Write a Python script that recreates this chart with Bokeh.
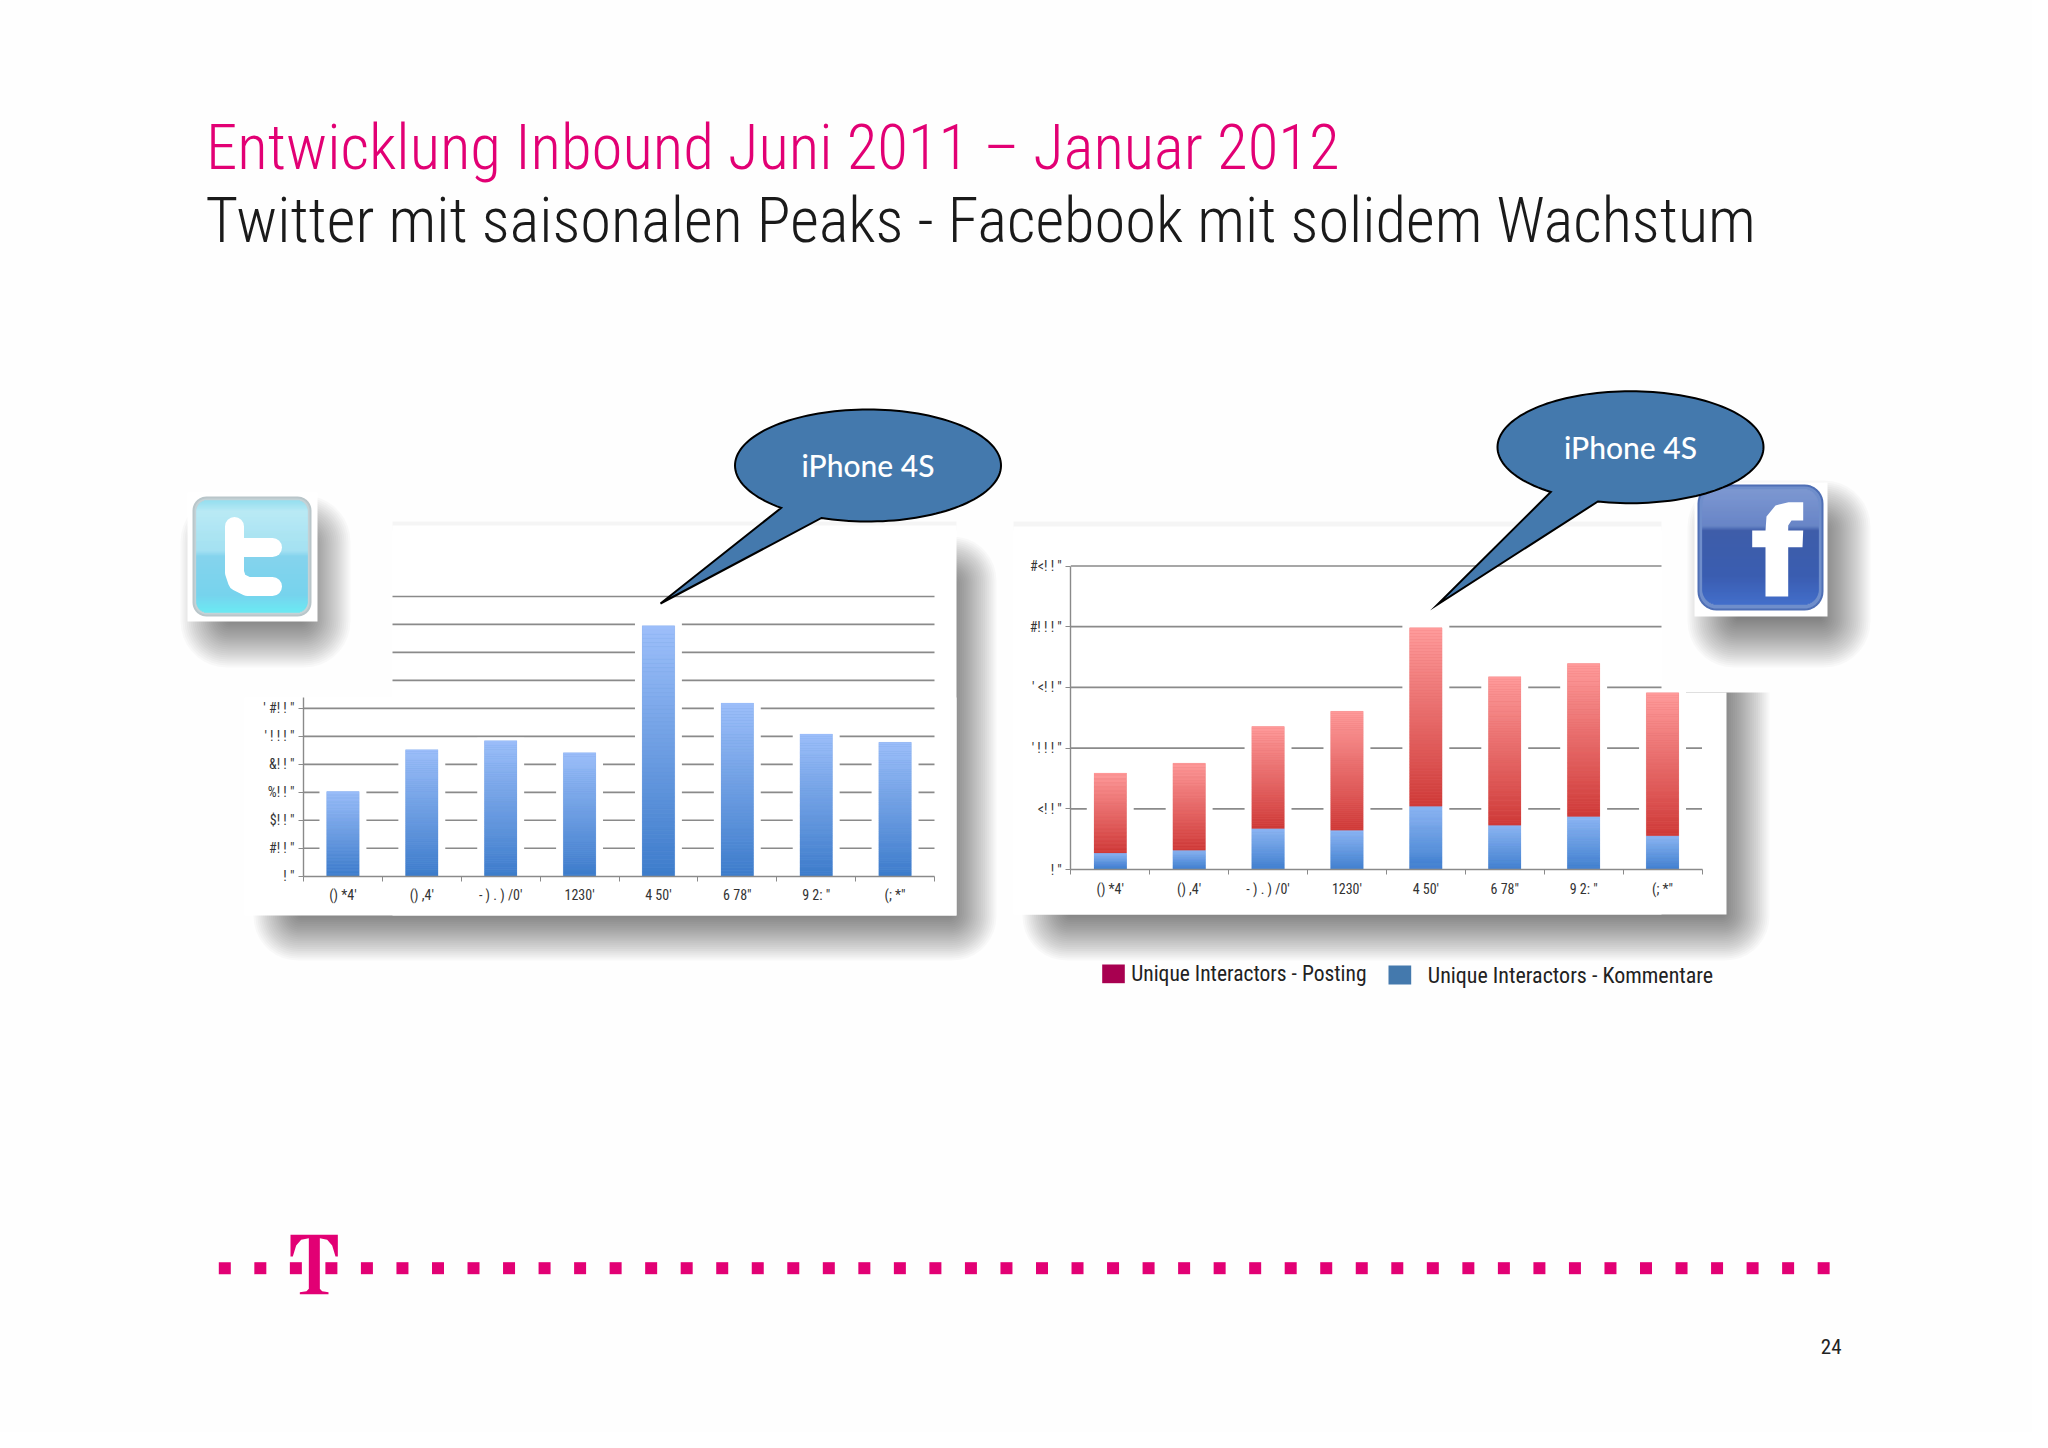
import numpy as np
from bokeh.plotting import figure
from bokeh.core.properties import value
from bokeh.models import Range1d, LinearAxis, FixedTicker
from bokeh.embed import file_html
from bokeh.resources import INLINE

# ---- data ----
months = ["() *4'", "() ,4'", "- ) . ) /0'", "1230'", "4 50'", "6 78\"", "9 2: \"", "(; *\""]
tw_values = [605, 905, 969, 883, 1790, 1238, 1017, 957]
tw_ticks = [0, 200, 400, 600, 800, 1000, 1200]
tw_tick_labels = ['! "', '#! ! "', '$! ! "', '%! ! "', '&! ! "', "' ! ! ! \"", "' #! ! \""]
tw_extra_grid = [1400, 1600, 1800, 2000]
fb_kommentare = [136, 159, 337, 324, 522, 364, 437, 278]
fb_posting = [658, 717, 840, 979, 1469, 1223, 1259, 1177]
fb_ticks = [0, 500, 1000, 1500, 2000, 2500]
fb_tick_labels = ['! "', '<! ! "', "' ! ! ! \"", "' <! ! \"", '#! ! ! "', '#<! ! "']

BG = "#fefefe"
MAG = "#e20074"
CALL = "#4479ad"
SANS = "Roboto Condensed, Roboto"
TITLE_FONT = "Roboto Condensed Light, Roboto Condensed, Roboto Light, Roboto"

W, H = 2032, 1432
p = figure(width=W, height=H, x_range=Range1d(0, W), y_range=Range1d(H, 0),
           output_backend="svg", toolbar_location=None,
           x_axis_location=None, y_axis_location=None, min_border=0,
           background_fill_color=BG, border_fill_color=BG, outline_line_color=None)
p.grid.visible = False

# placement of the two charts on the page
TW = dict(x0=303.0, cat=78.875, y0=875.7, k=279.7 / 2000)
FB = dict(x0=1070.3, cat=78.9, y0=869.0, k=303.5 / 2500)
for name, c in (("tw", TW), ("fb", FB)):
    p.extra_x_ranges[name + "_x"] = Range1d(-c["x0"] / c["cat"] - .5, (W - c["x0"]) / c["cat"] - .5)
    p.extra_y_ranges[name + "_y"] = Range1d((c["y0"] - H) / c["k"], c["y0"] / c["k"])


def mix(a, b, t):
    a = [int(a[i:i + 2], 16) for i in (1, 3, 5)]
    b = [int(b[i:i + 2], 16) for i in (1, 3, 5)]
    return "#%02x%02x%02x" % tuple(int(round(a[i] + (b[i] - a[i]) * t)) for i in range(3))


def rrect(x0, y0, x1, y1, r):
    xs, ys = [], []
    for cx, cy, a in ((x1 - r, y0 + r, -90), (x1 - r, y1 - r, 0), (x0 + r, y1 - r, 90), (x0 + r, y0 + r, 180)):
        t = np.radians(np.linspace(a, a + 90, 10))
        xs += list(cx + r * np.cos(t))
        ys += list(cy + r * np.sin(t))
    return xs, ys


def shadow(x0, y0, x1, y1, blur, alpha=.024, n=26):
    for i in range(n):
        s = blur * (1 - 2 * (i + .5) / n)
        xs, ys = rrect(x0 - s, y0 - s, x1 + s, y1 + s, max((s + blur) * .9, .5))
        p.patch(xs, ys, fill_color="#000000", fill_alpha=alpha, line_color=None)


def grad_rrect(x0, y0, x1, y1, r, stops):
    n = int(y1 - y0)
    L, R, T, B, C = [], [], [], [], []
    for i in range(n):
        y = y0 + i + .5
        d = 0
        if y < y0 + r:
            d = r - np.sqrt(max(r * r - (y0 + r - y) ** 2, 0))
        elif y > y1 - r:
            d = r - np.sqrt(max(r * r - (y - y1 + r) ** 2, 0))
        f = (i + .5) / n
        for (f0, c0), (f1, c1) in zip(stops, stops[1:]):
            if f0 <= f <= f1:
                C.append(mix(c0, c1, (f - f0) / (f1 - f0)))
                break
        L.append(x0 + d); R.append(x1 - d); T.append(y0 + i); B.append(y0 + i + 1)
    p.quad(left=L, right=R, top=T, bottom=B, fill_color=C, line_color=C, line_width=.4)


def text(x, y, s, color, size, font=SANS, align="left", baseline="alphabetic"):
    p.text([x], [y], text=[s], text_color=color, text_font=value(font), text_font_size=size,
           text_align=align, text_baseline=baseline)


def callout(cx, cy, rx, ry, b1, b2, tip, label, dy):
    a1 = np.arctan2((b1[1] - cy) / ry, (b1[0] - cx) / rx)
    a2 = np.arctan2((b2[1] - cy) / ry, (b2[0] - cx) / rx)
    t = np.linspace(a2, a1 - 2 * np.pi, 140)
    xs = list(cx + rx * np.cos(t)) + [tip[0]]
    ys = list(cy + ry * np.sin(t)) + [tip[1]]
    p.patch(xs, ys, fill_color=CALL, line_color="#000000", line_width=2, line_join="miter")
    text(cx, cy + dy, label, "#ffffff", "30px", font="Lato Medium, Lato", align="center", baseline="middle")


def gradient_bars(xs, bottoms, tops, width, c_top, c_bot, rx, ry, n=60):
    L, R, T, B, C = [], [], [], [], []
    for x, b, t in zip(xs, bottoms, tops):
        edges = np.linspace(t, b, n + 1)
        for i in range(n):
            L.append(x - width / 2); R.append(x + width / 2)
            T.append(edges[i]); B.append(edges[i + 1])
            C.append(mix(c_top, c_bot, (i + .5) / n))
    p.quad(left=L, right=R, top=T, bottom=B, fill_color=C, line_color=C, line_width=.2,
           x_range_name=rx, y_range_name=ry)


def chart(name, ticks, tick_labels, axis_top):
    rx, ry = name + "_x", name + "_y"
    xa = LinearAxis(x_range_name=rx, y_range_name=ry, fixed_location=0, bounds=(-.5, 7.5),
                    ticker=FixedTicker(ticks=list(range(8)), minor_ticks=[i - .5 for i in range(9)]),
                    major_label_overrides={i: m for i, m in enumerate(months)},
                    major_tick_in=0, major_tick_out=0, minor_tick_in=0, minor_tick_out=5,
                    major_label_standoff=6, axis_line_color="#8a8a8a", minor_tick_line_color="#8a8a8a",
                    axis_line_width=1.4, major_label_text_font=SANS,
                    major_label_text_font_size="14px", major_label_text_color="#333333")
    ya = LinearAxis(x_range_name=rx, y_range_name=ry, fixed_location=-.5, bounds=(0, axis_top),
                    ticker=FixedTicker(ticks=ticks),
                    major_label_overrides=dict(zip(ticks, tick_labels)),
                    major_tick_in=0, major_tick_out=5, minor_tick_line_color=None,
                    major_label_standoff=4, axis_line_color="#8a8a8a", major_tick_line_color="#8a8a8a",
                    axis_line_width=1.4, major_label_text_font=SANS,
                    major_label_text_font_size="14px", major_label_text_color="#333333")
    p.add_layout(xa, "below")
    p.add_layout(ya, "left")


def grid(name, values, x0, x1):
    p.segment(x0=[x0] * len(values), x1=[x1] * len(values), y0=values, y1=values,
              line_color="#8a8a8a", line_width=1.7, x_range_name=name + "_x", y_range_name=name + "_y")


idx = list(range(8))
BARW = 32.5 / 79
HALO = 47 / 79

# ---- left card (Twitter) ----
shadow(277, 560, 972, 936, 25)
p.quad(left=[180], right=[400], top=[480], bottom=[705], fill_color=BG, line_color=None)
p.quad(left=[180], right=[1005], top=[480], bottom=[524], fill_color=BG, line_color=None)
p.quad(left=[392], right=[956], top=[521], bottom=[530], fill_color="#f5f5f5", line_color=None)
p.quad(left=[392], right=[956], top=[525], bottom=[915], fill_color="#ffffff", line_color=None)
p.quad(left=[244], right=[956], top=[697], bottom=[915], fill_color="#ffffff", line_color=None)

grid("tw", tw_ticks[1:], -.5, 7.5)
grid("tw", tw_extra_grid, (392 - TW["x0"]) / TW["cat"] - .5, 7.5)
halo_top = [v + 3 / TW["k"] for v in tw_values]
p.vbar(x=idx, top=halo_top, bottom=0, width=HALO, fill_color="#ffffff", line_color=None,
       x_range_name="tw_x", y_range_name="tw_y")
p.vbar(x=idx, top=tw_values, bottom=0, width=BARW, fill_color="#6f9fe0", line_color=None,
       x_range_name="tw_x", y_range_name="tw_y")
gradient_bars(idx, [0] * 8, tw_values, BARW, "#9dbffa", "#3d7ccb", "tw_x", "tw_y")
chart("tw", tw_ticks, tw_tick_labels, 1280)

# ---- right card (Facebook) ----
shadow(1046, 560, 1745, 936, 25)
p.quad(left=[1655], right=[1900], top=[470], bottom=[692], fill_color=BG, line_color=None)
p.quad(left=[1013], right=[1661], top=[521], bottom=[530], fill_color="#f5f5f5", line_color=None)
p.quad(left=[1013], right=[1661], top=[526], bottom=[914], fill_color="#ffffff", line_color=None)
p.quad(left=[1013], right=[1726], top=[692], bottom=[914], fill_color="#ffffff", line_color=None)

upper = [t for t in fb_ticks if t >= 1500]
lower = [t for t in fb_ticks[1:] if t < 1500]
grid("fb", lower, -.5, 7.5)
grid("fb", upper, -.5, (1661 - FB["x0"]) / FB["cat"] - .5)
totals = [a + b for a, b in zip(fb_kommentare, fb_posting)]
p.vbar(x=idx, top=[v + 3 / FB["k"] for v in totals], bottom=0, width=HALO, fill_color="#ffffff", line_color=None,
       x_range_name="fb_x", y_range_name="fb_y")
p.vbar(x=idx, top=fb_kommentare, bottom=0, width=BARW, fill_color="#6f9fe0", line_color=None,
       x_range_name="fb_x", y_range_name="fb_y")
p.vbar(x=idx, top=totals, bottom=fb_kommentare, width=BARW, fill_color="#e56a6a", line_color=None,
       x_range_name="fb_x", y_range_name="fb_y")
gradient_bars(idx, [0] * 8, fb_kommentare, BARW, "#92b9f6", "#3f7fcf", "fb_x", "fb_y")
gradient_bars(idx, fb_kommentare, totals, BARW, "#ff9c9c", "#cf3a38", "fb_x", "fb_y")
chart("fb", fb_ticks, fb_tick_labels, 2500)

# ---- Twitter icon ----
shadow(205, 520, 325, 642, 26, alpha=.024)
p.quad(left=[187], right=[317], top=[492], bottom=[621], fill_color="#ffffff", line_color=None)
xs, ys = rrect(193, 497, 310, 615, 13)
p.patch(xs, ys, fill_color="#c4d2d6", line_color="#b9c6ca", line_width=2)
grad_rrect(196, 500, 307, 612, 11, [(0, "#8fdff2"), (.1, "#b8ecf8"), (.45, "#a0e2f5"), (.5, "#7fd4f0"),
                                     (.85, "#6fd4f0"), (1, "#62ecf6")])
p.multi_line([[234, 234, 237, 247, 272], [234, 272]], [[526, 572, 581, 586, 586], [547, 547]],
             line_color="#ffffff", line_width=19, line_cap="round", line_join="round")

# ---- Facebook icon ----
shadow(1712, 505, 1845, 642, 26, alpha=.024)
p.quad(left=[1694], right=[1827], top=[482], bottom=[616], fill_color="#ffffff", line_color=None)
xs, ys = rrect(1698, 485, 1822, 609, 18)
p.patch(xs, ys, fill_color="#6f8ecb", line_color="#4f6fb5", line_width=2)
grad_rrect(1702, 489, 1818, 604, 15, [(0, "#7f99d2"), (.32, "#6884c6"), (.36, "#3a58a6"), (.75, "#3658ae"), (1, "#3f6ccb")])
p.patch([1765, 1787.7, 1787.7, 1802, 1802.7, 1787.7, 1787.7, 1791, 1802.7, 1802.7, 1788, 1775, 1766, 1765, 1751.7, 1751.7, 1765],
        [596, 596, 546.7, 546.7, 530, 530, 525, 520, 520, 501.7, 501.7, 505, 516, 530, 530, 546.7, 546.7],
        fill_color="#ffffff", line_color=None)

# ---- callouts ----
callout(867.5, 465, 133, 56, (779.5, 508), (820.5, 518), (660, 603), "iPhone 4S", -1)
callout(1630, 446.7, 133, 56, (1553, 490), (1598, 500), (1437, 604), "iPhone 4S", 0)

# ---- titles, legend, footer ----
text(205.5, 147, "Entwicklung Inbound Juni 2011 – Januar 2012", MAG, "63px", font=TITLE_FONT)
text(205, 220, "Twitter mit saisonalen Peaks - Facebook mit solidem Wachstum", "#1a1a1a", "62.6px", font=TITLE_FONT)

p.quad(left=[1101.7], right=[1124.3], top=[964], bottom=[982.7], fill_color="#a80050", line_color=None)
p.quad(left=[1388], right=[1410.7], top=[965], bottom=[984], fill_color=CALL, line_color=None)
text(1130.7, 973, "Unique Interactors - Posting", "#222222", "21.5px", baseline="middle")
text(1427.3, 975, "Unique Interactors - Kommentare", "#222222", "22px", baseline="middle")
text(1830.7, 1345.7, "24", "#222222", "21px", align="center", baseline="middle")

# ---- Telekom bar ----
dot_x = 224.3 + 35.53 * np.arange(46)
p.rect(x=dot_x, y=[1267.7] * 46, width=12, height=12, fill_color=MAG, line_color=None)
zx = [330, 472, 472, 465, 455, 440, 418, 418, 425, 444, 444, 358, 358, 378, 385, 385, 362, 347, 337, 330]
zy = [103, 103, 168, 168, 135, 118, 113, 265, 272, 275, 281, 281, 275, 272, 265, 113, 118, 135, 168, 168]
p.patch([180 + v / 3 for v in zx], [1200 + v / 3 for v in zy], fill_color=MAG, line_color=None)

open("out.html", "w").write(file_html(p, INLINE))
